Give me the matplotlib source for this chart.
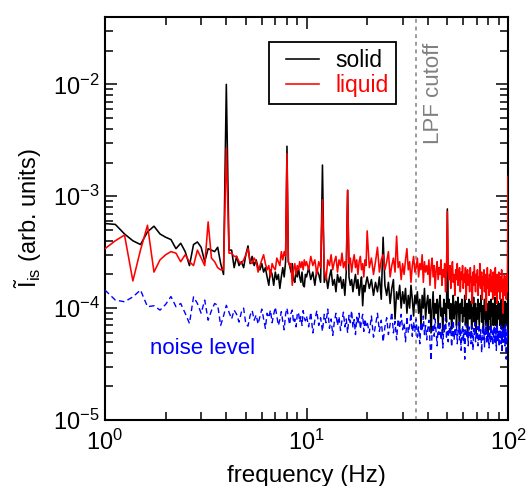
import numpy as np
import matplotlib
matplotlib.use("Agg")
import matplotlib.pyplot as plt
import matplotlib.transforms as mtransforms
from matplotlib.legend_handler import HandlerLine2D

plt.rcParams['font.family'] = ['Liberation Sans', 'DejaVu Sans']
plt.rcParams['mathtext.fontset'] = 'custom'
plt.rcParams['mathtext.rm'] = 'Liberation Sans'
plt.rcParams['mathtext.it'] = 'Liberation Sans:italic'
plt.rcParams['mathtext.bf'] = 'Liberation Sans:bold'

# frequency bins (Hz): three resolution segments
freq_low = np.arange(1.0, 10.0, 0.125)      # 72 bins
freq_mid = np.arange(10.0, 20.0, 0.25)      # 40 bins
freq_high = np.arange(20.0, 100.01, 0.5)    # 161 bins
freq = np.concatenate([freq_low, freq_mid, freq_high])

# values in units of 1e-4 (arb. units)
solid_low = [5.7, 5.6, 4.6, 4.0, 3.7, 4.8, 5.4, 4.6, 4.3, 4.1, 3.4, 3.8, 3.2, 2.4, 3.7, 3.9,
             3.5, 2.6, 3.4, 3.3, 3.2, 3.5, 2.5, 2.0, 100, 3.3, 3.3, 2.3, 2.9, 2.4, 2.6, 2.3,
             3.0, 3.6, 2.5, 2.9, 2.4, 2.7, 2.3, 2.2, 2.5, 2.1, 2.3, 1.9, 1.6, 2.2, 2.0, 1.6,
             2.1, 1.8, 2.0, 1.5, 1.9, 2.3, 1.9, 2.6, 28, 2.6, 2.4, 2.1, 2.5, 1.8, 1.7, 2.2,
             1.9, 2.3, 1.9, 1.7, 2.1, 1.6, 1.55, 2.0]
solid_mid = [1.9, 2.3, 1.8, 2.1, 1.6, 2.2, 2.0, 1.7, 19, 1.7, 2.0, 1.5, 1.9, 2.2, 1.6, 1.8,
             1.4, 2.0, 1.7, 1.9, 1.5, 1.8, 1.3, 2.1, 11.3, 1.9, 1.6, 1.8, 1.4, 1.7, 2.0, 1.5,
             1.8, 1.3, 1.6, 1.9, 1.05, 1.6, 1.4, 1.7]
solid_high = [1.9, 1.5, 1.8, 1.3, 1.7, 1.4, 1.9, 1.2, 4.3, 1.6,
              1.3, 1.7, 1.1, 1.5, 1.8, 0.8, 1.4, 1.2, 1.6, 1.0,
              1.4, 1.1, 1.5, 0.9, 1.3, 1.0, 1.6, 1.2, 0.85, 1.3,
              1.1, 1.4, 0.9, 1.2, 0.7, 1.3, 1.0, 1.5, 0.8, 1.1,
              1.3, 0.9, 1.2, 0.6, 1.0, 1.4, 0.8, 1.1, 0.9, 1.2,
              0.7, 1.1, 1.3, 0.85, 1.0, 0.6, 1.2, 0.9, 1.1, 0.75,
              7.7, 1.0, 1.2, 0.8, 1.1, 0.65, 0.95, 1.3, 0.8, 1.0,
              1.15, 0.7, 1.0, 1.25, 0.85, 0.6, 1.1, 0.9, 1.2, 0.75,
              1.0, 0.85, 1.3, 0.7, 0.95, 1.1, 0.6, 1.0, 1.2, 0.8,
              0.9, 1.15, 0.65, 1.0, 0.85, 1.25, 0.75, 0.95, 1.1, 0.6,
              1.0, 0.8, 1.2, 0.9, 0.7, 1.1, 0.95, 1.3, 0.75, 0.9,
              1.05, 0.6, 0.9, 1.2, 0.8, 1.0, 0.7, 1.1, 0.95, 0.55,
              0.9, 1.15, 0.8, 1.0, 0.65, 1.2, 0.85, 0.95, 1.1, 0.7,
              1.0, 0.85, 1.25, 0.7, 0.9, 1.05, 0.6, 0.95, 1.15, 0.8,
              0.9, 1.1, 0.7, 1.0, 0.85, 1.2, 0.65, 0.95, 1.05, 0.75,
              1.0, 0.6, 0.9, 1.15, 0.8, 1.0, 0.7, 1.1, 0.85, 0.95,
              15]

liquid_low = [3.4, 4.0, 4.5, 1.75, 3.3, 5.5, 2.1, 2.7, 3.0, 3.2, 3.1, 2.6, 3.0, 2.6, 2.4, 3.3,
              2.8, 2.4, 5.9, 2.8, 2.6, 2.3, 2.2, 2.2, 27, 3.1, 3.1, 2.9, 2.9, 2.6, 2.5, 2.7,
              3.0, 3.4, 2.6, 2.5, 2.8, 2.6, 2.1, 2.4, 2.7, 3.0, 2.5, 2.2, 2.4, 1.9, 2.5, 2.3,
              2.2, 2.8, 2.6, 2.4, 3.2, 2.7, 3.2, 2.9, 24, 2.6, 2.4, 2.5, 1.6, 2.2, 2.5, 2.0,
              2.4, 2.2, 2.6, 2.3, 2.6, 2.2, 2.7, 2.4]
liquid_mid = [2.6, 2.2, 2.9, 2.4, 2.7, 2.0, 2.6, 2.3, 9.3, 2.2, 1.8, 2.7, 2.4, 3.0, 2.2, 2.6,
              2.9, 2.1, 2.7, 2.4, 3.1, 2.3, 2.6, 2.2, 11.3, 2.5, 2.8, 2.1, 2.6, 3.0, 2.3, 2.7,
              2.0, 2.6, 2.9, 2.2, 2.5, 1.9, 2.7, 2.4]
liquid_high = [4.9, 2.3, 2.8, 2.0, 2.6, 3.5, 2.1, 2.7, 3.0, 2.2,
               2.6, 3.2, 1.9, 2.4, 2.8, 2.1, 4.4, 2.3, 2.6, 1.8,
               2.5, 2.0, 2.7, 3.4, 2.2, 2.6, 1.7, 2.4, 2.9, 2.1,
               2.3, 2.8, 1.9, 2.5, 2.2, 3.0, 1.7, 2.6, 2.1, 2.4,
               2.0, 2.7, 1.6, 2.3, 2.8, 1.9, 2.4, 1.5, 2.2, 2.6,
               1.8, 2.3, 2.0, 2.7, 1.6, 2.2, 1.9, 2.5, 1.4, 2.1,
               7.3, 2.3, 1.8, 2.4, 1.5, 2.1, 2.6, 1.7, 2.0, 1.3,
               2.2, 1.8, 2.5, 1.6, 2.0, 2.3, 1.4, 2.1, 1.8, 2.4,
               1.5, 2.0, 1.7, 2.3, 1.2, 1.9, 2.2, 1.6, 2.0, 1.4,
               2.3, 1.7, 1.9, 1.1, 2.1, 1.6, 2.4, 1.8, 1.4, 2.0,
               1.7, 2.2, 1.3, 1.9, 1.6, 2.5, 1.5, 1.8, 2.1, 1.2,
               1.9, 1.6, 2.2, 1.4, 1.8, 2.0, 0.95, 1.7, 2.3, 1.5,
               1.8, 1.3, 2.0, 1.6, 2.2, 1.4, 1.7, 1.9, 1.2, 2.1,
               1.6, 1.9, 1.3, 2.3, 1.5, 1.8, 1.1, 2.0, 1.7, 1.4,
               2.1, 1.5, 1.8, 1.2, 1.9, 1.6, 2.2, 1.4, 1.7, 0.9,
               1.8, 1.5, 2.0, 1.3, 1.7, 1.9, 1.2, 1.6, 2.0, 1.4,
               15]

noise_low = [1.45, 1.18, 1.14, 1.26, 1.45, 1.03, 1.05, 0.96, 1.08, 1.27, 1.03, 1.1, 0.9, 0.73,
             1.26, 1.1, 0.9, 1.18, 0.78, 0.95, 1.1, 1.06, 0.7, 0.85, 1.06, 0.92, 0.8, 0.96,
             0.88, 0.75, 0.92, 1.0, 0.72, 0.69, 0.86, 0.95, 0.78, 0.87, 0.72, 0.84, 0.98, 0.8,
             0.66, 0.9, 0.82, 0.96, 0.74, 0.88, 1.02, 0.85, 0.7, 0.79, 0.93, 0.76, 0.64, 0.88,
             1.0, 0.83, 0.71, 0.9, 0.96, 0.74, 0.8, 0.68, 0.88, 0.92, 0.75, 0.84, 0.7, 0.95,
             0.82, 0.77]
noise_mid = [0.85, 0.68, 0.92, 0.6, 0.78, 0.95, 0.7, 0.82, 0.62, 0.88, 0.74, 0.98, 0.66, 0.8,
             0.57, 0.76, 0.9, 0.7, 0.84, 0.63, 0.78, 0.92, 0.68, 0.8, 0.6, 0.86, 0.74, 0.95,
             0.67, 0.79, 0.58, 0.83, 0.72, 0.9, 0.65, 0.77, 0.88, 0.62, 0.8, 0.7]
noise_high = [0.75, 0.6, 0.85, 0.55, 0.7, 0.9, 0.62, 0.78, 0.5, 0.68,
              0.82, 0.58, 0.72, 0.92, 0.6, 0.76, 0.52, 0.8, 0.66, 0.88,
              0.64, 0.74, 0.5, 0.84, 0.6, 0.7, 0.9, 0.56, 0.75, 0.62,
              0.8, 0.55, 0.68, 0.48, 0.74, 0.62, 0.85, 0.58, 0.7, 0.52,
              0.66, 0.78, 0.5, 0.34, 0.62, 0.72, 0.56, 0.8, 0.6, 0.46,
              0.7, 0.58, 0.76, 0.52, 0.64, 0.44, 0.72, 0.6, 0.82, 0.55,
              0.62, 0.5, 0.74, 0.58, 0.68, 0.45, 0.6, 0.78, 0.52, 0.64,
              0.56, 0.7, 0.48, 0.62, 0.75, 0.52, 0.66, 0.42, 0.6, 0.7,
              0.5, 0.64, 0.35, 0.58, 0.72, 0.54, 0.62, 0.46, 0.68, 0.57,
              0.63, 0.48, 0.7, 0.55, 0.42, 0.66, 0.58, 0.74, 0.5, 0.6,
              0.54, 0.68, 0.46, 0.6, 0.72, 0.5, 0.64, 0.56, 0.4, 0.62,
              0.7, 0.52, 0.6, 0.45, 0.66, 0.58, 0.73, 0.48, 0.62, 0.55,
              0.6, 0.44, 0.68, 0.56, 0.5, 0.7, 0.53, 0.62, 0.46, 0.65,
              0.55, 0.7, 0.48, 0.6, 0.66, 0.42, 0.58, 0.72, 0.5, 0.62,
              0.57, 0.45, 0.64, 0.52, 0.7, 0.48, 0.6, 0.4, 0.66, 0.55,
              0.62, 0.5, 0.68, 0.46, 0.58, 0.72, 0.35, 0.6, 0.52, 0.64,
              0.6]

unit = 1e-4
solid = np.array(solid_low + solid_mid + solid_high) * unit
liquid = np.array(liquid_low + liquid_mid + liquid_high) * unit
noise = np.array(noise_low + noise_mid + noise_high) * unit

series_labels = ["solid", "liquid"]
lpf_cutoff = 35.0

fig = plt.figure(figsize=(5.28, 4.86), dpi=100)
ax = fig.add_axes([105/528, 1 - 420/486, (508 - 105)/528, (420 - 17)/486])

ax.plot(freq, solid, color='black', lw=1.15, label=series_labels[0], zorder=2)
ax.plot(freq, liquid, color='#ff0000', lw=1.15, label=series_labels[1], zorder=3)
ax.plot(freq, noise, color='#0000ff', lw=1.0, linestyle=(0, (4, 2.5)), zorder=4)

ax.axvline(lpf_cutoff, color='#808080', lw=1.1, linestyle=(0, (2.5, 2.5)), zorder=1)

ax.set_xscale('log')
ax.set_yscale('log')
ax.set_xlim(1, 100)
ax.set_ylim(1e-5, 4e-2)

for s in ax.spines.values():
    s.set_linewidth(1.5)
ax.tick_params(which='both', direction='in', top=True, right=True, width=1.1)
ax.tick_params(which='major', length=8.5, labelsize=17)
ax.tick_params(which='minor', length=5.5)
ax.tick_params(axis='x', which='major', pad=7)
ax.tick_params(axis='y', which='major', pad=4)

ax.set_xlabel('frequency (Hz)', fontsize=17.5, labelpad=7.5)
ax.set_ylabel(r'$\tilde{\mathrm{I}}_{\mathrm{is}}$ (arb. units)', fontsize=17, labelpad=6)

leg = ax.legend(loc='upper left', bbox_to_anchor=((269 - 105)/403, (420 - 42)/403),
                fontsize=16.5, frameon=True, fancybox=False, edgecolor='black',
                framealpha=1, borderpad=0.3, labelspacing=0.1, handlelength=1.9,
                handletextpad=0.7, borderaxespad=0, labelcolor='linecolor',
                handler_map={plt.Line2D: HandlerLine2D(xpad=0.45)})
leg.get_frame().set_linewidth(1.3)

trans = mtransforms.blended_transform_factory(ax.transData, ax.transAxes)
ax.text(42.5, (420 - 43)/403, 'LPF cutoff', rotation=90, color='#808080', fontsize=16,
        ha='center', va='top', transform=trans)
ax.text(1.67, 4.4e-5, 'noise level', color='#0000ff', fontsize=16, ha='left', va='center')

fig.savefig('out.png', dpi=100)
